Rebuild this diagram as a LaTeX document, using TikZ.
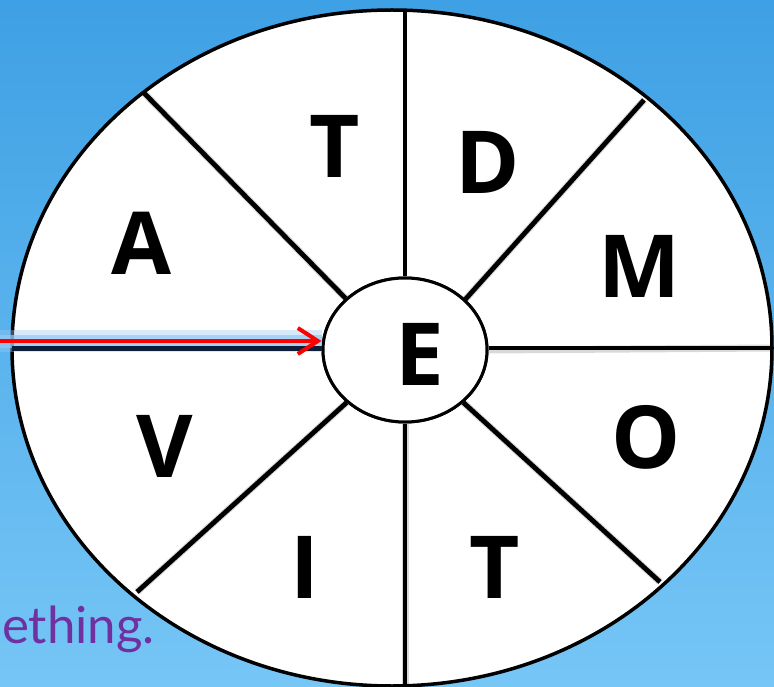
\documentclass[tikz,border=0pt]{standalone}
\usepackage{fontspec}
\setmainfont{Open Sans}
\newfontfamily\latofont{Lato}
\usetikzlibrary{shapes.geometric,arrows.meta}
\definecolor{bgtop}{RGB}{62,160,228}
\definecolor{bgbot}{RGB}{118,198,246}
\definecolor{purp}{RGB}{112,48,160}
\definecolor{navy}{RGB}{12,30,58}
\definecolor{glowblue}{RGB}{150,200,245}
\begin{document}
\begin{tikzpicture}[x=1pt,y=-1pt,
  spoke/.style={line width=4.8, black, line cap=butt},
  spokeshadow/.style={line width=7, black, opacity=0.15},
  letter/.style={font=\fontsize{87}{90}\selectfont\bfseries, inner sep=0, anchor=center, text=black},
  ring/.style={ellipse, draw=black, fill=white, inner sep=0}]
\useasboundingbox (0,0) rectangle (774,687);
\clip (0,0) rectangle (774,687);
\shade[top color=bgtop, bottom color=bgbot] (0,0) rectangle (774,687);

% outer wheel
\node[ring, line width=3.5, minimum width=760, minimum height=676] (outer) at (392,348) {};

% outer ends of spokes
\coordinate (tp) at (405,11);
\coordinate (bt) at (405,690);
\coordinate (rt) at (772,348);
\coordinate (lft) at (12,348);
\coordinate (ul) at (144,93);
\coordinate (ur) at (644,100);
\coordinate (ll) at (137,592);
\coordinate (lr) at (660,582);

% inner circle (defined first for anchors)
\node[ring, line width=3, minimum width=164, minimum height=144] (c) at (405,350) {};

% spoke shadows
\begin{scope}[shift={(3,3)}]
  \draw[spokeshadow] (c.139) -- (ul);
  \draw[spokeshadow] (c.40) -- (ur);
  \draw[spokeshadow] (c.222) -- (ll);
  \draw[spokeshadow] (c.318) -- (lr);
  \draw[spokeshadow] (c.south) -- (bt);
  \draw[spokeshadow] (c.east) -- (rt);
\end{scope}

% spokes
\draw[spoke, line width=3.2] (c.north) -- (tp);
\draw[spoke] (c.139) -- (ul);
\draw[spoke] (c.40) -- (ur);
\draw[spoke] (c.222) -- (ll);
\draw[spoke] (c.318) -- (lr);
\draw[spoke] (c.south) -- (bt);
\draw[spoke] (c.east |- rt) -- (rt);

% redraw inner circle on top
\node[ring, line width=3, minimum width=164, minimum height=144] (c2) at (405,350) {};

% letters
\node[letter] (l1) at (334.5,146) {T};
\node[letter] (l2) at (488,162) {D};
\node[letter] (l3) at (142,243) {A};
\node[letter] (l4) at (640,266) {M};
\node[letter] (l5) at (420,354) {E};
\node[letter] (l6) at (165,446) {V};
\node[letter] (l7) at (646,437.5) {O};
\node[letter] (l8) at (304.5,567.5) {I};
\node[letter] (l9) at (494.5,567.5) {T};

% arrow with glow and left spoke
\coordinate (as) at (0,341);
\draw[glowblue, line width=22, opacity=0.4] (as) -- (as -| c.west);
\draw[glowblue, line width=13, opacity=0.7] (as) -- (as -| c.west);
\draw[navy, line width=5] (lft) -- (lft -| c.west);
\draw[red, line width=4, -{Straight Barb[length=20pt,width=26pt]}] (as) -- (as -| c.west);

% partial caption
\node[font=\latofont\fontsize{51}{56}\selectfont, text=purp, anchor=base east, inner sep=0] (cap) at (155,643) {ething.};
\end{tikzpicture}
\end{document}
